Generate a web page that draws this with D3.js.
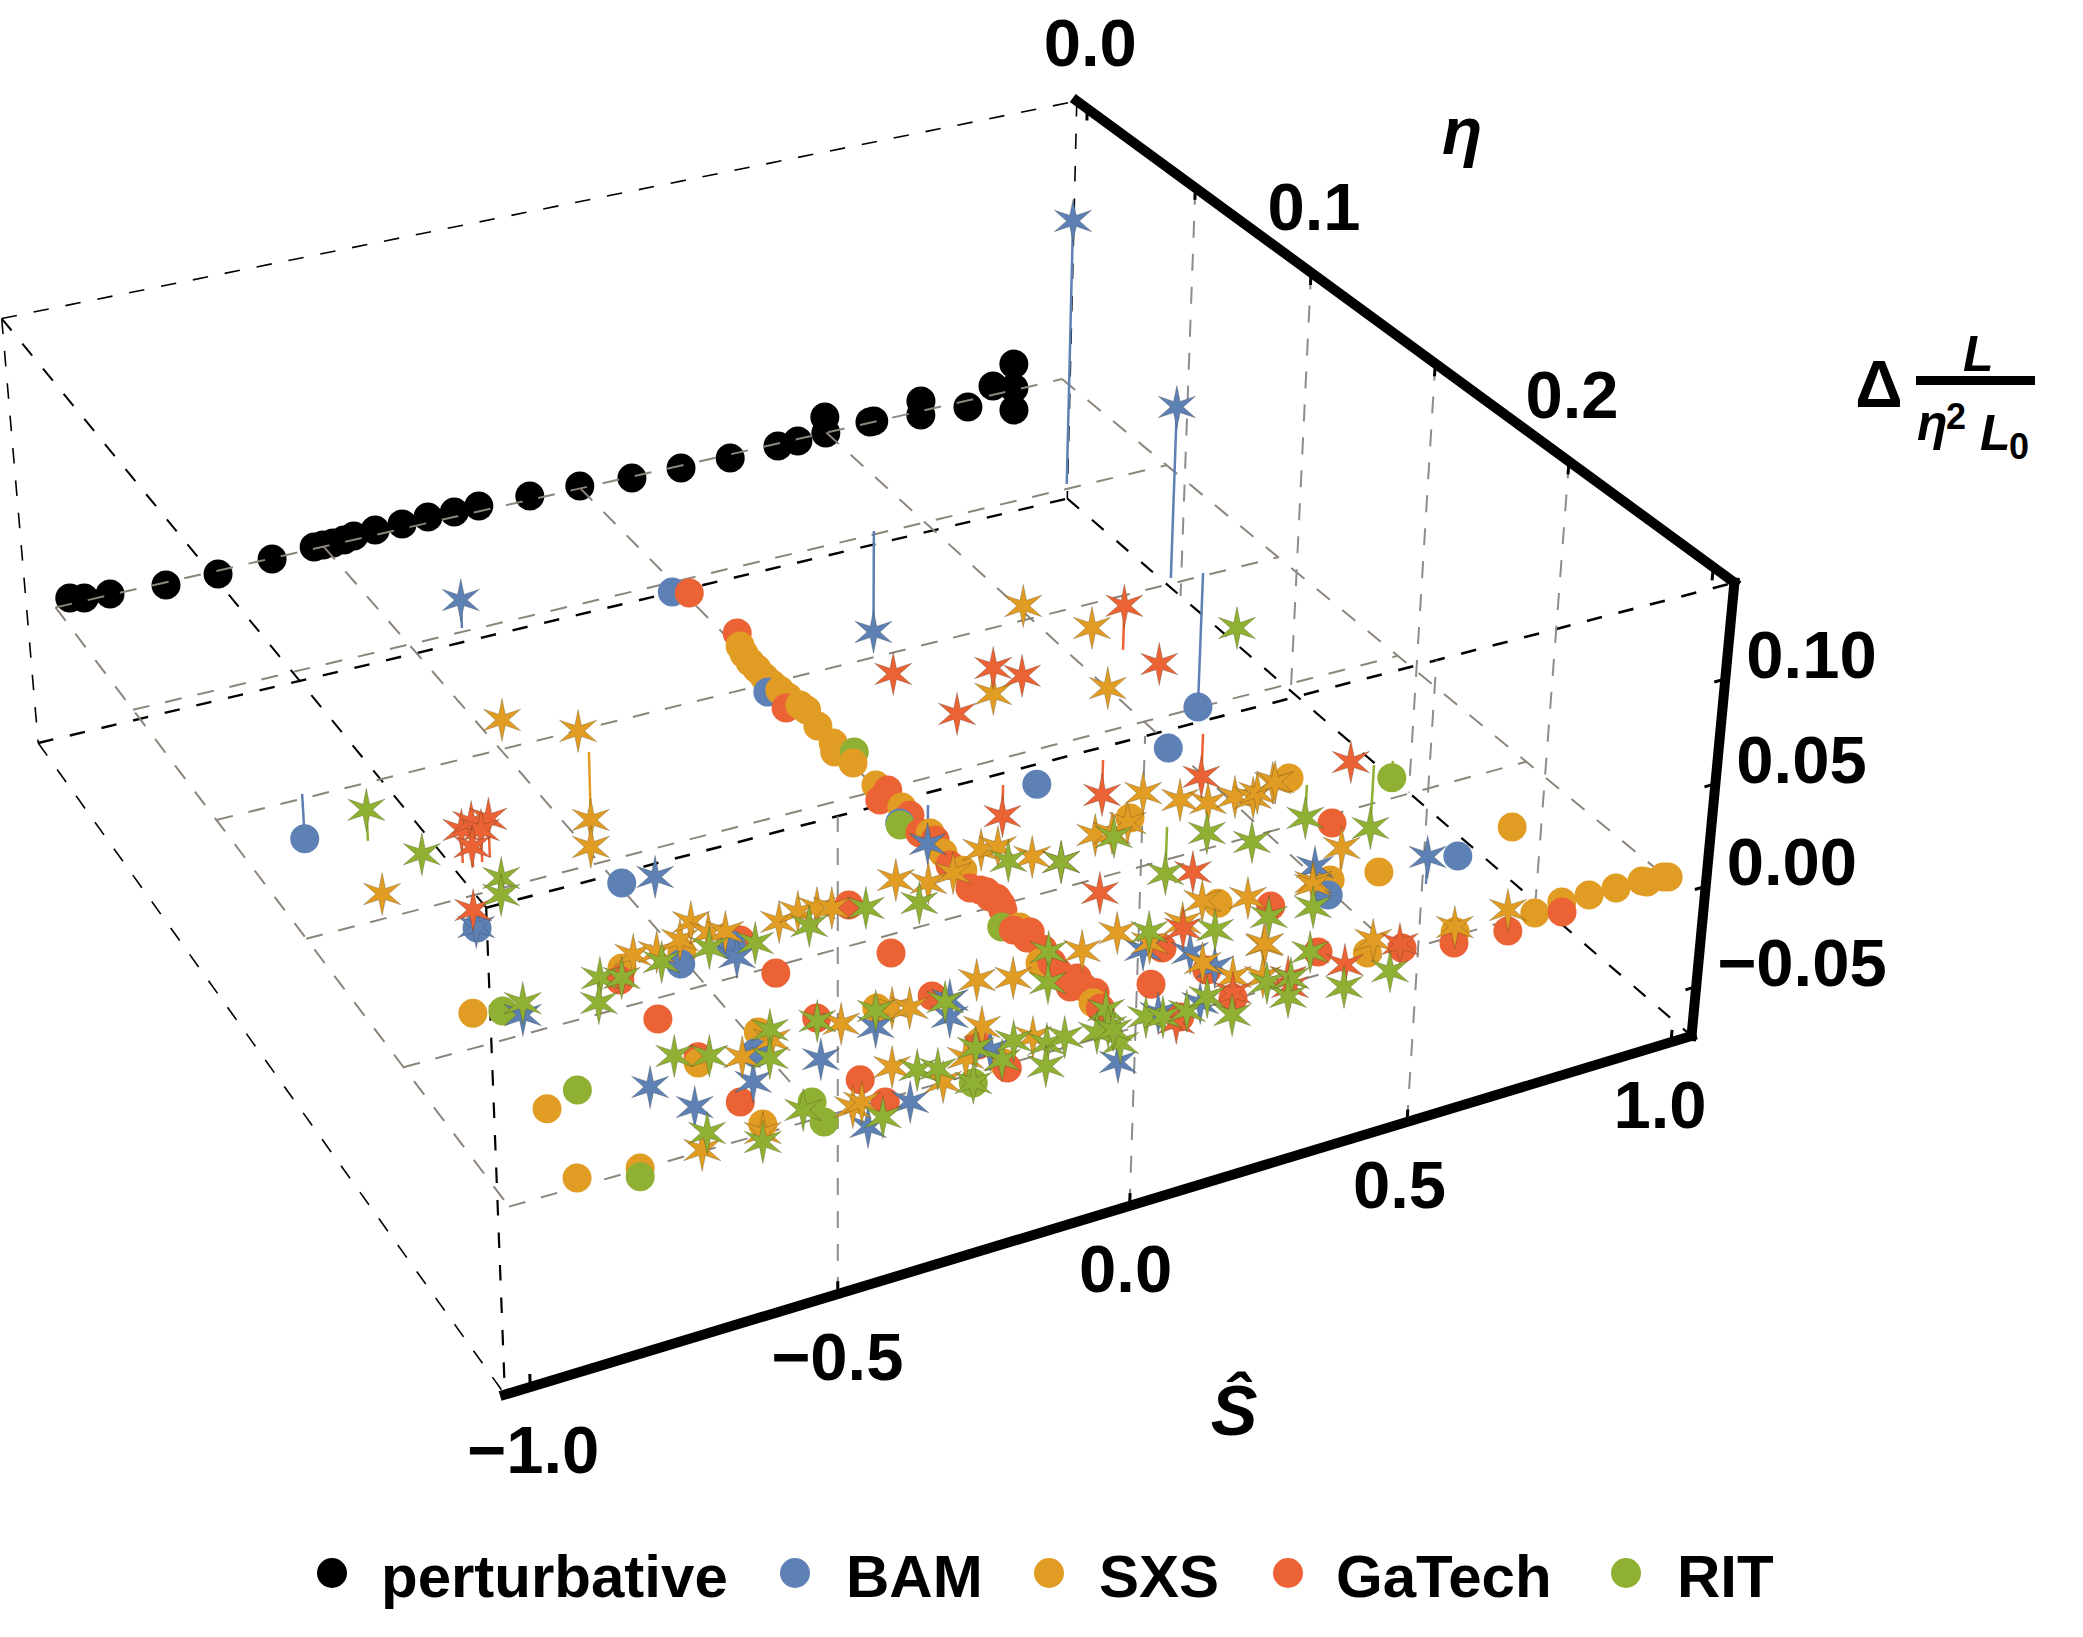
<!DOCTYPE html>
<html>
<head>
<meta charset="utf-8">
<script src="https://cdn.jsdelivr.net/npm/d3@7"></script>
<style>
body { margin: 0; background: #fff; }
text { font-family: "Liberation Sans", sans-serif; font-weight: bold; fill: #000; }
</style>
</head>
<body>
<script>
// perturbative points all sit on eta = 0: [spin, delta]
var perturbative = [[-0.973,0.0032],[-0.947,0.0015],[-0.900,0.0005],[-0.797,-0.0014],[-0.700,-0.0018],[-0.598,-0.0004],[-0.518,0.0009],[-0.501,0.0009],[-0.482,0.0008],[-0.461,0.0010],[-0.442,0.0020],[-0.401,0.0026],[-0.349,0.0026],[-0.299,0.0031],[-0.248,0.0027],[-0.200,0.0029],[-0.100,0.0020],[-0.001,0.0013],[0.103,-0.0007],[0.202,-0.0013],[0.302,-0.0020],[0.400,-0.0014],[0.441,-0.0011],[0.497,0.0087],[0.499,-0.0002],[0.591,0.0004],[0.599,0.0004],[0.698,0.0056],[0.698,-0.0022],[0.798,-0.0037],[0.851,0.0049],[0.896,0.0011],[0.895,0.0145],[0.897,-0.0112]];

// [spin, eta, delta], delta left out means 0
var bamCircles = [[-0.846,0.0982,-0.0227],[-0.750,0.1614],[-0.493,0.1590],[-0.016,0.0541],[-0.020,0.1033],[-0.509,0.1911],[-0.416,0.1893],[0.242,0.1624],[0.493,0.1618],[0.851,0.0989,-0.0721],[-0.015,0.1634],[-0.513,0.2254],[0.491,0.2260],[0.738,0.2251]];
var bamStars = [[0.800,0.0479,0.1390],[0.791,0.0977,0.0890],[-0.396,0.0484,0.0146],[0.403,0.0485,-0.0547],[0.052,0.1597,-0.0196],[-0.750,0.1610],[-0.438,0.1599],[-0.784,0.1938],[-0.423,0.1938],[-0.319,0.2277],[-0.549,0.2339],[-0.432,0.2328],[-0.692,0.2268],[-0.655,0.2365],[-0.364,0.2530],[-0.449,0.2567],[-0.184,0.2258],[-0.206,0.2310],[-0.037,0.2588],[0.150,0.2270],[0.211,0.2321],[0.225,0.2386],[0.083,0.2477],[0.154,0.2483],[0.516,0.2158],[0.647,0.2312,0.0133],[-0.193,0.2444]];
var sxsCircles = [[0.007,0.0826],[0.001,0.0862],[-0.002,0.0899],[-0.002,0.0933],[-0.003,0.0971],[-0.002,0.1006],[0.001,0.1037],[0.003,0.1071],[0.009,0.1113],[0.012,0.1138],[0.005,0.1209],[0.003,0.1286],[-0.008,0.1321],[0.003,0.1378],[0.005,0.1478],[0.011,0.1580],[0.015,0.1696],[0.005,0.1776],[0.009,0.1852],[0.010,0.2089],[-0.011,0.2221],[0.008,0.2390],[-0.595,0.1873],[-0.494,0.1876],[-0.850,0.1889],[-0.852,0.2247],[-0.884,0.2474],[-0.792,0.2497],[-0.601,0.2236],[-0.484,0.2192],[-0.584,0.2471],[-0.294,0.2220],[-0.192,0.2494],[0.326,0.1827],[0.323,0.2188],[0.622,0.1836],[0.517,0.2214],[0.599,0.2232],[0.865,0.2206],[0.457,0.2476],[0.612,0.2488],[0.754,0.2500],[0.810,0.2490],[0.860,0.2493],[0.910,0.2495],[0.959,0.2496],[0.964,0.2504],[0.996,0.2503],[1.003,0.2507]];
var sxsStars = [[-0.459,0.0888],[-0.360,0.1002],[-0.372,0.1091,-0.0348],[-0.492,0.1437],[-0.845,0.1414],[-0.564,0.1840],[-0.528,0.1851],[-0.481,0.1832],[-0.444,0.1783],[-0.433,0.1834],[-0.408,0.1846],[-0.320,0.1860],[-0.281,0.1844],[-0.249,0.1848],[-0.228,0.1861],[-0.100,0.1825],[-0.058,0.1864],[-0.009,0.1853],[0.064,0.1800],[0.092,0.1806],[0.127,0.1870],[0.250,0.1853],[0.277,0.1862],[0.315,0.1842],[0.384,0.1753],[0.427,0.1811],[0.463,0.1847],[0.512,0.1851],[0.537,0.1871],[0.590,0.1838],[0.551,0.1858],[0.595,0.1837],[0.064,0.2220],[0.138,0.2194],[0.169,0.2254],[0.244,0.2220],[0.214,0.2363],[0.304,0.2167],[0.373,0.2198],[0.325,0.2361],[0.536,0.2213,0.0143],[0.490,0.2205],[-0.535,0.2255],[-0.475,0.2228],[-0.362,0.2238],[-0.273,0.2233],[-0.249,0.2248],[-0.346,0.2412],[-0.692,0.2496],[-0.594,0.2497],[-0.446,0.2497],[-0.429,0.2492],[-0.121,0.2219],[-0.068,0.2244],[-0.175,0.2368],[-0.119,0.2442],[-0.296,0.2499],[0.236,0.2432],[0.277,0.2458],[0.485,0.2441],[0.328,0.2359],[0.485,0.2214],[0.619,0.2473],[0.721,0.2467],[0.579,0.1097],[0.501,0.1342],[0.510,0.0943],[0.318,0.1255],[-0.236,0.2447]];
var gatechCircles = [[0.009,0.0562],[0.022,0.0772],[-0.016,0.1111],[0.015,0.1507],[-0.011,0.1535],[0.011,0.1616],[0.000,0.1687],[0.012,0.1725],[-0.002,0.1823],[-0.006,0.1918],[0.006,0.1933],[0.018,0.1975],[0.010,0.1965],[0.010,0.2019],[-0.003,0.2093],[0.005,0.2131],[0.018,0.2114],[0.002,0.2265],[-0.002,0.2322],[0.016,0.2333],[0.011,0.2412],[0.012,0.1945],[0.015,0.2000],[0.012,0.2180],[0.006,0.2230],[0.020,0.2300],[0.025,0.2360],[-0.612,0.1910],[-0.397,0.1885],[-0.200,0.1866],[-0.389,0.2023],[-0.204,0.2059],[-0.605,0.2066],[-0.594,0.2217],[-0.388,0.2199],[-0.589,0.2388],[-0.404,0.2423],[-0.397,0.2509],[-0.203,0.2230],[-0.203,0.2419],[-0.193,0.2512],[0.113,0.2383],[0.179,0.2281],[0.210,0.2388],[0.206,0.2496],[0.393,0.2244],[0.390,0.2430],[0.611,0.2028],[0.513,0.2491],[0.593,0.2521],[0.687,0.2532],[0.794,0.2521],[0.107,0.2507]];
var gatechStars = [[-0.695,0.1378,0.0163],[-0.685,0.1401,0.0221],[-0.649,0.1381,0.0188],[-0.666,0.1392,0.0158],[-0.685,0.1401,0.0099],[-0.735,0.1550],[0.198,0.1083],[0.360,0.1156],[0.391,0.1214],[0.232,0.1295],[0.589,0.1212,0.0228],[0.620,0.1301],[0.740,0.1838],[0.191,0.1596,-0.0157],[0.377,0.1600,-0.0178],[0.568,0.1600,-0.0220],[0.161,0.1913],[0.334,0.2065],[0.171,0.2050],[0.236,0.2239],[0.094,0.2522],[0.213,0.2481],[0.312,0.2480],[0.300,0.2512],[0.408,0.2493],[0.516,0.2477]];
var ritCircles = [[0.021,0.1339],[-0.807,0.1908],[-0.792,0.2216],[-0.494,0.2448],[-0.501,0.2516],[-0.801,0.2522],[-0.257,0.2527],[0.804,0.1873,-0.0086],[-0.017,0.1641],[-0.015,0.2073]];
var ritStars = [[-0.805,0.1214,0.0154],[-0.743,0.1310],[-0.658,0.1465],[-0.678,0.1523],[-0.771,0.1900],[-0.637,0.1886],[-0.667,0.1965],[-0.607,0.1905],[-0.533,0.1888],[-0.450,0.1884],[-0.380,0.1908],[-0.283,0.1900],[-0.180,0.1891],[-0.098,0.1922],[0.087,0.1862],[0.161,0.1913],[0.274,0.1877],[0.366,0.1891,-0.0236],[0.414,0.1948],[0.465,0.2019],[0.803,0.1239],[0.637,0.1876,-0.0167],[0.769,0.1870,-0.0321],[0.451,0.2285],[-0.625,0.2194],[-0.578,0.2224],[-0.466,0.2196],[-0.499,0.2281],[-0.391,0.2209],[-0.299,0.2228],[-0.316,0.2442],[-0.667,0.2451],[-0.604,0.2523],[-0.515,0.2464],[-0.418,0.2551],[-0.193,0.2260],[-0.210,0.2426],[-0.287,0.2456],[-0.257,0.2527],[-0.190,0.2484],[-0.150,0.2437],[-0.109,0.2474],[-0.139,0.2539],[-0.076,0.2469],[0.016,0.2194],[-0.027,0.2290],[0.016,0.2423],[-0.004,0.2476],[-0.009,0.2534],[-0.027,0.2484],[-0.001,0.2489],[0.061,0.2478],[0.084,0.2493],[0.125,0.2495],[0.172,0.2471],[0.181,0.2546],[0.184,0.2219],[0.279,0.2271],[0.374,0.2277],[0.379,0.2423],[0.274,0.2480],[0.314,0.2486],[0.283,0.2540],[0.374,0.2559],[0.461,0.2551]];

var spinTicks = [-1, -0.5, 0, 0.5, 1];
var etaTicks = [0, 0.1, 0.2];
var etaGrid = [0, 0.05, 0.1, 0.15, 0.2, 0.25];
var deltaTicks = [0.1, 0.05, 0, -0.05];
var legendNames = ["perturbative", "BAM", "SXS", "GaTech", "RIT"];
var legendColors = ["#000000", "#5E81B5", "#E19C24", "#EB6235", "#8FB032"];

var width = 2083, height = 1637;
var spinRange = [-1.04, 1.04], etaRange = [-0.005, 0.257], deltaRange = [-0.075, 0.145];

var sx = d3.scaleLinear().domain(spinRange).range([0, 1]);
var sy = d3.scaleLinear().domain(etaRange).range([0, 1]);
var sz = d3.scaleLinear().domain(deltaRange).range([0, 1]);

// camera, fitted on the eight corners of the box
var cam = [1126.876140, 375.369706, -36.566399, 38.198477,
          -198.769611, 399.261326, -438.365095, 742.994679,
           0.091636, -0.180946, -0.043610];

function project(s, e, l) {
    var u = sx(s), v = sy(e), w = sz(l);
    var d = cam[8]*u + cam[9]*v + cam[10]*w + 1;
    return [(cam[0]*u + cam[1]*v + cam[2]*w + cam[3])/d,
            (cam[4]*u + cam[5]*v + cam[6]*w + cam[7])/d];
}

var svg = d3.select("body").append("svg")
    .attr("width", width)
    .attr("height", height)
    .style("display", "block");

function addLine(g, a, b, color, w, dash) {
    var p = project(a[0], a[1], a[2]), q = project(b[0], b[1], b[2]);
    g.append("line")
        .attr("x1", p[0]).attr("y1", p[1])
        .attr("x2", q[0]).attr("y2", q[1])
        .attr("stroke", color)
        .attr("stroke-width", w)
        .attr("stroke-dasharray", dash);
}

var s0 = spinRange[0], s1 = spinRange[1], e0 = etaRange[0], e1 = etaRange[1], l0 = deltaRange[0], l1 = deltaRange[1];

// perturbative goes under the grid, the gray line runs across those dots
var pertG = svg.append("g");
pertG.selectAll("circle")
    .data(perturbative)
    .enter().append("circle")
    .attr("cx", function(d) { return project(d[0], 0, d[1])[0]; })
    .attr("cy", function(d) { return project(d[0], 0, d[1])[1]; })
    .attr("r", 14.5)
    .attr("fill", "#000");

// dashed box edges
var box = svg.append("g").attr("fill", "none");
var black = "15.5 17";
addLine(box, [s0,e0,l1], [s1,e0,l1], "#000", 1.6, black);
addLine(box, [s0,e0,l1], [s0,e0,l0], "#000", 1.6, black);
addLine(box, [s1,e0,l1], [s1,e0,l0], "#000", 1.6, black);
addLine(box, [s0,e0,l0], [s1,e0,l0], "#000", 2.4, black);
addLine(box, [s0,e0,l1], [s0,e1,l1], "#000", 2, black);
addLine(box, [s0,e0,l0], [s0,e1,l0], "#000", 1.6, black);
addLine(box, [s1,e0,l0], [s1,e1,l0], "#000", 2.2, black);
addLine(box, [s0,e1,l1], [s1,e1,l1], "#000", 2.6, black);
addLine(box, [s0,e1,l1], [s0,e1,l0], "#000", 2.2, black);

// gray grid: the delta = 0 sheet and the two front walls
var grid = svg.append("g").attr("fill", "none");
var grayDash = "17 16";
etaGrid.forEach(function(e) {
    addLine(grid, [-1,e,0], [1,e,0], "#8C857B", 2, grayDash);
});
spinTicks.forEach(function(s) {
    addLine(grid, [s,0,0], [s,0.25,0], "#8C857B", 2, grayDash);
});
[-0.5, 0, 0.5].forEach(function(s) {
    addLine(grid, [s,e1,l0], [s,e1,l1], "#8C8C8C", 2, grayDash);
});
[0.05, 0.1, 0.15, 0.2].forEach(function(e) {
    addLine(grid, [s1,e,l1], [s1,e,l0], "#8C8C8C", 2, grayDash);
});

// all marks, stems underneath
var stars = [[bamStars,1],[sxsStars,2],[gatechStars,3],[ritStars,4]];
var circles = [[bamCircles,1],[sxsCircles,2],[gatechCircles,3],[ritCircles,4]];
function flat(list) {
    var out = [];
    list.forEach(function(it) {
        it[0].forEach(function(d) {
            out.push({s: d[0], e: d[1], l: d.length > 2 ? d[2] : 0, c: legendColors[it[1]]});
        });
    });
    return out;
}
var starMarks = flat(stars), circleMarks = flat(circles);
circleMarks.sort(function(a, b) { return a.e - b.e; });

svg.append("g").selectAll("line")
    .data(starMarks.concat(circleMarks).filter(function(d) { return d.l != 0; }))
    .enter().append("line")
    .attr("x1", function(d) { return project(d.s, d.e, 0)[0]; })
    .attr("y1", function(d) { return project(d.s, d.e, 0)[1]; })
    .attr("x2", function(d) { return project(d.s, d.e, d.l)[0]; })
    .attr("y2", function(d) { return project(d.s, d.e, d.l)[1]; })
    .attr("stroke", function(d) { return d.c; })
    .attr("stroke-width", 2.5);

svg.append("g").selectAll("circle")
    .data(circleMarks)
    .enter().append("circle")
    .attr("cx", function(d) { return project(d.s, d.e, d.l)[0]; })
    .attr("cy", function(d) { return project(d.s, d.e, d.l)[1]; })
    .attr("r", 14.5)
    .attr("fill", function(d) { return d.c; });

var starPath = d3.lineRadial()
    .angle(function(d) { return d*Math.PI/6; })
    .radius(function(d) { return d % 2 ? 6.5 : 21.5; })
    .curve(d3.curveLinearClosed)(d3.range(12));

svg.append("g").selectAll("path")
    .data(starMarks)
    .enter().append("path")
    .attr("d", starPath)
    .attr("transform", function(d) {
        var p = project(d.s, d.e, d.l);
        return "translate(" + p[0] + "," + p[1] + ")";
    })
    .attr("fill", function(d) { return d.c; })
    .attr("stroke", "rgba(40,40,20,0.35)")
    .attr("stroke-width", 0.7);

// solid axes with short inward ticks
var axes = svg.append("g").attr("stroke-linecap", "square");
addLine(axes, [s1,e0,l1], [s1,e1,l1], "#000", 10);
addLine(axes, [s1,e1,l1], [s1,e1,l0], "#000", 10);
addLine(axes, [s0,e1,l0], [s1,e1,l0], "#000", 10);
spinTicks.forEach(function(t) { addLine(axes, [t,e1,l0], [t,e1,l0+0.0055], "#000", 3); });
etaGrid.forEach(function(t) { addLine(axes, [s1,t,l1], [s1,t,l1-0.0055], "#000", 3); });
deltaTicks.forEach(function(t) { addLine(axes, [s1,e1,t], [s1-0.018,e1,t], "#000", 3); });

var labels = svg.append("g").attr("font-size", 67);
var fmt1 = d3.format(".1f"), fmt2 = d3.format(".2f");
spinTicks.forEach(function(t) {
    var p = project(t, e1, l0);
    labels.append("text").attr("x", p[0] - 4 - 7*t).attr("y", p[1] + 86)
        .attr("text-anchor", "middle").text(fmt1(t));
});
etaTicks.forEach(function(t) {
    var p = project(s1, t, l1);
    labels.append("text").attr("x", p[0] + 3).attr("y", p[1] - 43)
        .attr("text-anchor", "middle").text(fmt1(t));
});
deltaTicks.forEach(function(t) {
    var p = project(s1, e1, t);
    labels.append("text").attr("x", p[0] + 21).attr("y", p[1] - 1).text(fmt2(t));
});

// axis titles
svg.append("text").attr("x", 1442).attr("y", 154).attr("font-size", 66)
    .attr("font-style", "italic").text("\u03B7");
svg.append("text").attr("x", 1234).attr("y", 1435).attr("font-size", 70)
    .attr("text-anchor", "middle").attr("font-style", "italic").text("\u015C");

svg.append("text").attr("x", 1879).attr("y", 407).attr("font-size", 66)
    .attr("text-anchor", "middle").text("\u0394");
svg.append("rect").attr("x", 1916).attr("y", 376).attr("width", 119).attr("height", 9).attr("fill", "#000");
svg.append("text").attr("x", 1963).attr("y", 371).attr("font-size", 50).attr("font-style", "italic").text("L");
svg.append("text").attr("x", 1917).attr("y", 440).attr("font-size", 50).attr("font-style", "italic").text("\u03B7");
svg.append("text").attr("x", 1946).attr("y", 429).attr("font-size", 36).text("2");
svg.append("text").attr("x", 1980).attr("y", 450).attr("font-size", 50).attr("font-style", "italic").text("L");
svg.append("text").attr("x", 2009).attr("y", 459).attr("font-size", 36).text("0");

// legend
var legendDotX = [332, 795, 1049, 1288, 1626];
var legendTextX = [381, 846, 1099, 1336, 1677];
var legend = svg.append("g").selectAll("g")
    .data(legendNames)
    .enter().append("g");
legend.append("circle")
    .attr("cx", function(d, i) { return legendDotX[i]; })
    .attr("cy", 1573)
    .attr("r", 15)
    .attr("fill", function(d, i) { return legendColors[i]; });
legend.append("text")
    .attr("x", function(d, i) { return legendTextX[i]; })
    .attr("y", 1597)
    .attr("font-size", 60)
    .text(function(d) { return d; });
</script>
</body>
</html>
